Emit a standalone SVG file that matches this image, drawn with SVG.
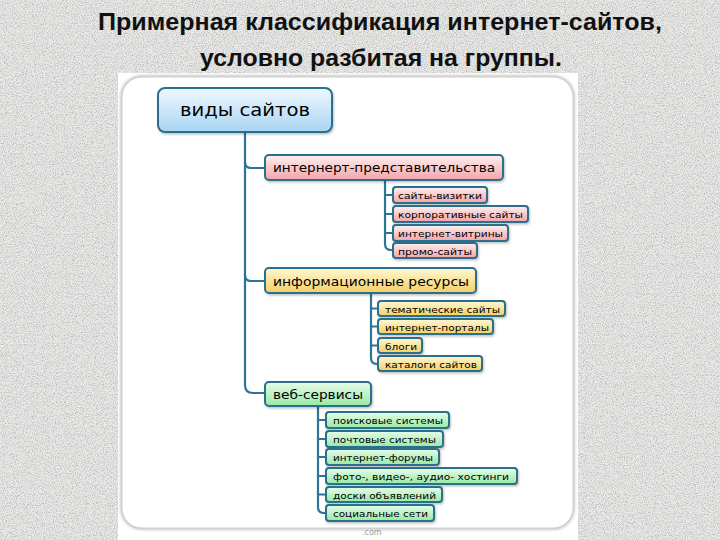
<svg xmlns="http://www.w3.org/2000/svg" width="720" height="540" viewBox="0 0 720 540">
<defs>
  <filter id="noise" x="0" y="0" width="100%" height="100%">
    <feTurbulence type="fractalNoise" baseFrequency="0.9" numOctaves="2" seed="7" result="t"/>
    <feColorMatrix in="t" type="matrix" values="0 0 0 0 0.5  0 0 0 0 0.5  0 0 0 0 0.5  3 0 0 0 -1.3"/>
  </filter>
  <filter id="soft" x="-5%" y="-5%" width="110%" height="110%">
    <feGaussianBlur stdDeviation="1.5"/>
  </filter>
  <filter id="shadow" x="-10%" y="-20%" width="120%" height="150%">
    <feDropShadow dx="1" dy="1.5" stdDeviation="0.8" flood-color="#000" flood-opacity="0.25"/>
  </filter>
  <linearGradient id="gBlue" x1="0" y1="0" x2="0" y2="1">
    <stop offset="0" stop-color="#eef8ff"/>
    <stop offset="1" stop-color="#a9d5f2"/>
  </linearGradient>
  <linearGradient id="gPink" x1="0" y1="0" x2="0" y2="1">
    <stop offset="0" stop-color="#fff0f0"/>
    <stop offset="1" stop-color="#f2a4a8"/>
  </linearGradient>
  <linearGradient id="gYellow" x1="0" y1="0" x2="0" y2="1">
    <stop offset="0" stop-color="#fff8d8"/>
    <stop offset="1" stop-color="#f4cf62"/>
  </linearGradient>
  <linearGradient id="gGreen" x1="0" y1="0" x2="0" y2="1">
    <stop offset="0" stop-color="#e8fdea"/>
    <stop offset="1" stop-color="#98e8a4"/>
  </linearGradient>
</defs>
<style>
  .title { font-family: "Liberation Sans", "DejaVu Sans", sans-serif; font-weight: bold; font-size: 24px; fill: #111; }
  .box { stroke: #2a6f8c; stroke-width: 2; filter: url(#shadow); }
  .t0 { font-family: "DejaVu Sans", Verdana, sans-serif; font-size: 17px; fill: #000; }
  .t1 { font-family: "DejaVu Sans", Verdana, sans-serif; font-size: 12.5px; fill: #000; }
  .t2 { font-family: "DejaVu Sans", Verdana, sans-serif; font-size: 9.5px; fill: #000; }
  .conn { fill: none; stroke: #2b7597; stroke-width: 2.2; stroke-linecap: round; }
  .pink { fill: url(#gPink); }
  .yellow { fill: url(#gYellow); }
  .green { fill: url(#gGreen); }
</style>

<!-- background -->
<rect x="0" y="0" width="720" height="540" fill="#e9e9e7"/>
<rect x="0" y="0" width="720" height="540" filter="url(#noise)"/>

<!-- titles -->
<text class="title" x="380" y="30" text-anchor="middle" textLength="564" lengthAdjust="spacingAndGlyphs">Примерная классификация интернет-сайтов,</text>
<text class="title" x="381" y="66" text-anchor="middle" textLength="362" lengthAdjust="spacingAndGlyphs">условно разбитая на группы.</text>

<!-- image panel -->
<rect x="118" y="73" width="460" height="467" fill="#ffffff"/>
<rect x="122" y="77" width="451" height="451" rx="20" fill="none" stroke="#b8b8b8" stroke-width="3" filter="url(#soft)"/>
<rect x="122" y="77" width="451" height="451" rx="20" fill="#ffffff" stroke="#d0d0d0" stroke-width="1"/>
<text x="362" y="535" font-family="DejaVu Sans, sans-serif" font-size="8" fill="#9a9a9a">.com</text>

<!-- connectors -->
<g id="connectors">
  <path class="conn" d="M245,132 V385 Q245,393 253,393 H265"/>
  <path class="conn" d="M245,162 Q245,168 251,168 H265"/>
  <path class="conn" d="M245,275 Q245,281 251,281 H265"/>
  <path class="conn" d="M385,180 V244 Q385,250 391,250 H393"/>
  <path class="conn" d="M385,195 H393 M385,214 H393 M385,233 H393"/>
  <path class="conn" d="M371,293 V358 Q371,364 377,364 H378"/>
  <path class="conn" d="M371,308.5 H378 M371,326.5 H378 M371,345.5 H378"/>
  <path class="conn" d="M318,406 V507 Q318,513 324,513 H326"/>
  <path class="conn" d="M318,420 H326 M318,439 H326 M318,457 H326 M318,476 H326 M318,494.5 H326"/>
</g>

<!-- root -->
<g id="root">
  <rect class="box" x="158" y="88" width="174" height="44" rx="7" fill="url(#gBlue)"/>
  <text class="t0" x="180" y="116" textLength="130" lengthAdjust="spacingAndGlyphs">виды сайтов</text>
</g>

<!-- group 1 -->
<g id="n-predst">
  <rect class="box pink" x="265" y="155" width="238" height="25" rx="4"/>
  <text class="t1" x="273" y="172" textLength="222" lengthAdjust="spacingAndGlyphs">интернерт-представительства</text>
</g>
<g id="n-vizitki">
  <rect class="box pink" x="393" y="187" width="94" height="16" rx="3"/>
  <text class="t2" x="398" y="199" textLength="84" lengthAdjust="spacingAndGlyphs">сайты-визитки</text>
</g>
<g id="n-korp">
  <rect class="box pink" x="393" y="206" width="135" height="16" rx="3"/>
  <text class="t2" x="398" y="218" textLength="125" lengthAdjust="spacingAndGlyphs">корпоративные сайты</text>
</g>
<g id="n-vitriny">
  <rect class="box pink" x="393" y="225" width="115" height="16" rx="3"/>
  <text class="t2" x="398" y="237" textLength="105" lengthAdjust="spacingAndGlyphs">интернет-витрины</text>
</g>
<g id="n-promo">
  <rect class="box pink" x="393" y="243" width="84" height="15" rx="3"/>
  <text class="t2" x="398" y="254.5" textLength="74" lengthAdjust="spacingAndGlyphs">промо-сайты</text>
</g>

<!-- group 2 -->
<g id="n-info">
  <rect class="box yellow" x="265" y="268" width="211" height="25" rx="4"/>
  <text class="t1" x="273" y="285.5" textLength="196" lengthAdjust="spacingAndGlyphs">информационные ресурсы</text>
</g>
<g id="n-temat">
  <rect class="box yellow" x="378" y="301" width="127" height="15" rx="3"/>
  <text class="t2" x="385" y="312.5" textLength="115" lengthAdjust="spacingAndGlyphs">тематические сайты</text>
</g>
<g id="n-portaly">
  <rect class="box yellow" x="378" y="319" width="115" height="15" rx="3"/>
  <text class="t2" x="385" y="330.5" textLength="104" lengthAdjust="spacingAndGlyphs">интернет-порталы</text>
</g>
<g id="n-blogi">
  <rect class="box yellow" x="378" y="338" width="44" height="15" rx="3"/>
  <text class="t2" x="385" y="349.5" textLength="32" lengthAdjust="spacingAndGlyphs">блоги</text>
</g>
<g id="n-katalogi">
  <rect class="box yellow" x="378" y="356" width="104" height="15" rx="3"/>
  <text class="t2" x="385" y="367.5" textLength="92" lengthAdjust="spacingAndGlyphs">каталоги сайтов</text>
</g>

<!-- group 3 -->
<g id="n-web">
  <rect class="box green" x="265" y="382" width="106" height="24" rx="4"/>
  <text class="t1" x="273" y="398.5" textLength="90" lengthAdjust="spacingAndGlyphs">веб-сервисы</text>
</g>
<g id="n-poisk">
  <rect class="box green" x="326" y="412" width="123" height="16" rx="3"/>
  <text class="t2" x="333" y="424" textLength="110" lengthAdjust="spacingAndGlyphs">поисковые системы</text>
</g>
<g id="n-pocht">
  <rect class="box green" x="326" y="431" width="117" height="16" rx="3"/>
  <text class="t2" x="333" y="443" textLength="103" lengthAdjust="spacingAndGlyphs">почтовые системы</text>
</g>
<g id="n-forum">
  <rect class="box green" x="326" y="449" width="113" height="16" rx="3"/>
  <text class="t2" x="333" y="461" textLength="100" lengthAdjust="spacingAndGlyphs">интернет-форумы</text>
</g>
<g id="n-host">
  <rect class="box green" x="326" y="468" width="191" height="16" rx="3"/>
  <text class="t2" x="333" y="480" textLength="176" lengthAdjust="spacingAndGlyphs">фото-, видео-, аудио- хостинги</text>
</g>
<g id="n-doski">
  <rect class="box green" x="326" y="487" width="116" height="15" rx="3"/>
  <text class="t2" x="333" y="498.5" textLength="103" lengthAdjust="spacingAndGlyphs">доски объявлений</text>
</g>
<g id="n-soc">
  <rect class="box green" x="326" y="505" width="108" height="16" rx="3"/>
  <text class="t2" x="333" y="517" textLength="95" lengthAdjust="spacingAndGlyphs">социальные сети</text>
</g>
</svg>
